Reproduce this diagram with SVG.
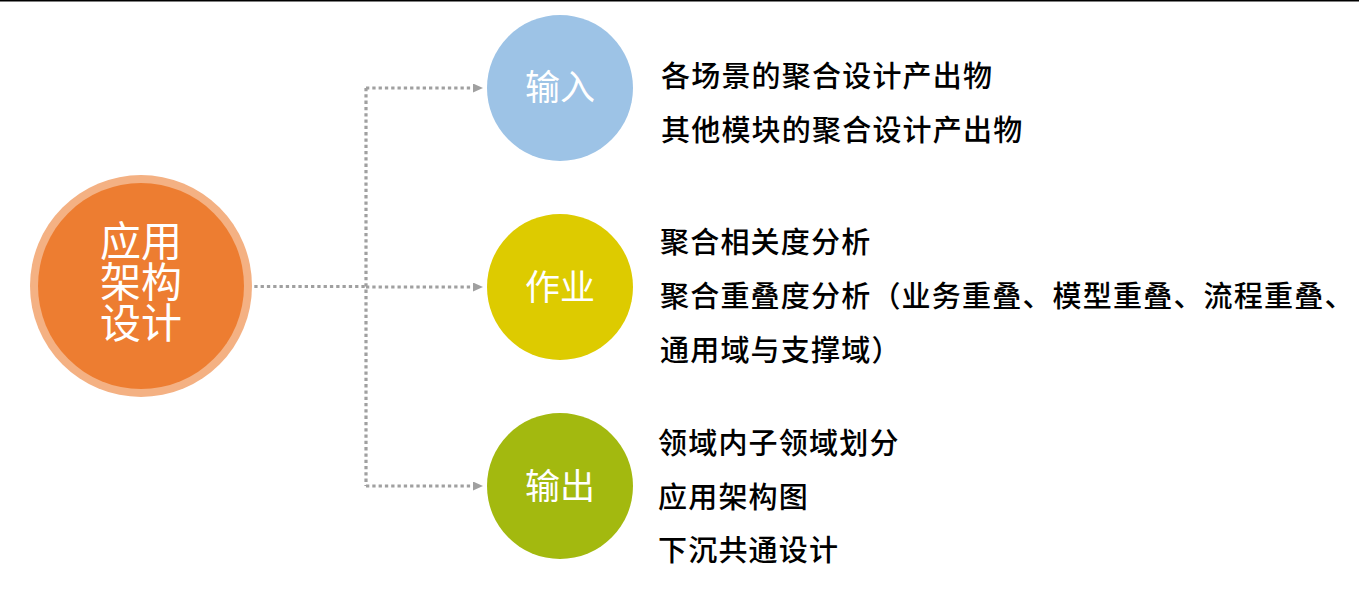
<svg xmlns="http://www.w3.org/2000/svg" width="1359" height="597" viewBox="0 0 1359 597">
  <style>
    .conn { fill: none; stroke: #A0A0A0; stroke-width: 3.2; stroke-dasharray: 3.3 3; }
    .lbl { font-family: "Noto Sans CJK SC", "Noto Sans", sans-serif; fill: #FFFFFF; text-anchor: middle; }
    .item { font-family: "Noto Sans CJK SC", "Noto Sans", sans-serif; fill: #000000; font-size: 29px; font-weight: 500; letter-spacing: 1.2px; }
  </style>
  <defs>
    <marker id="arrow" viewBox="0 0 10 9" refX="0" refY="4.5" markerWidth="10" markerHeight="9" markerUnits="userSpaceOnUse" orient="auto">
      <path d="M0,0 L10,4.5 L0,9 z" fill="#A0A0A0"/>
    </marker>
  </defs>
  <rect x="0" y="0" width="1359" height="597" fill="#FFFFFF"/>
  <line x1="0" y1="0.75" x2="1359" y2="0.75" stroke="#000000" stroke-width="1.5"/>

  <g id="connectors">
    <path class="conn" d="M248,286.5 H366"/>
    <path class="conn" d="M366,88 V486"/>
    <path class="conn" d="M366,88 H473" marker-end="url(#arrow)"/>
    <path class="conn" d="M366,287 H473" marker-end="url(#arrow)"/>
    <path class="conn" d="M366,486 H473" marker-end="url(#arrow)"/>
  </g>

  <g id="node-main">
    <circle cx="141" cy="286" r="111" fill="#F4B183"/>
    <circle cx="141" cy="286" r="103" fill="#ED7D31"/>
    <text class="lbl" font-size="41" x="141" y="256">应用</text>
    <text class="lbl" font-size="41" x="141" y="297">架构</text>
    <text class="lbl" font-size="41" x="141" y="338">设计</text>
  </g>

  <g id="node-input">
    <circle cx="560" cy="88" r="73" fill="#9DC3E6"/>
    <text class="lbl" font-size="35" x="560" y="100">输入</text>
  </g>
  <g id="node-work">
    <circle cx="560" cy="287" r="73" fill="#DDCB00"/>
    <text class="lbl" font-size="35" x="560" y="300">作业</text>
  </g>
  <g id="node-output">
    <circle cx="560" cy="486" r="73" fill="#A3B90F"/>
    <text class="lbl" font-size="35" x="560" y="499">输出</text>
  </g>

  <g id="text-input">
    <text class="item" x="661" y="87">各场景的聚合设计产出物</text>
    <text class="item" x="661" y="140.5">其他模块的聚合设计产出物</text>
  </g>
  <g id="text-work">
    <text class="item" x="660" y="253">聚合相关度分析</text>
    <text class="item" x="660" y="307">聚合重叠度分析（业务重叠、模型重叠、流程重叠、</text>
    <text class="item" x="660" y="361">通用域与支撑域）</text>
  </g>
  <g id="text-output">
    <text class="item" x="658" y="454">领域内子领域划分</text>
    <text class="item" x="658" y="508">应用架构图</text>
    <text class="item" x="658" y="561">下沉共通设计</text>
  </g>
</svg>
